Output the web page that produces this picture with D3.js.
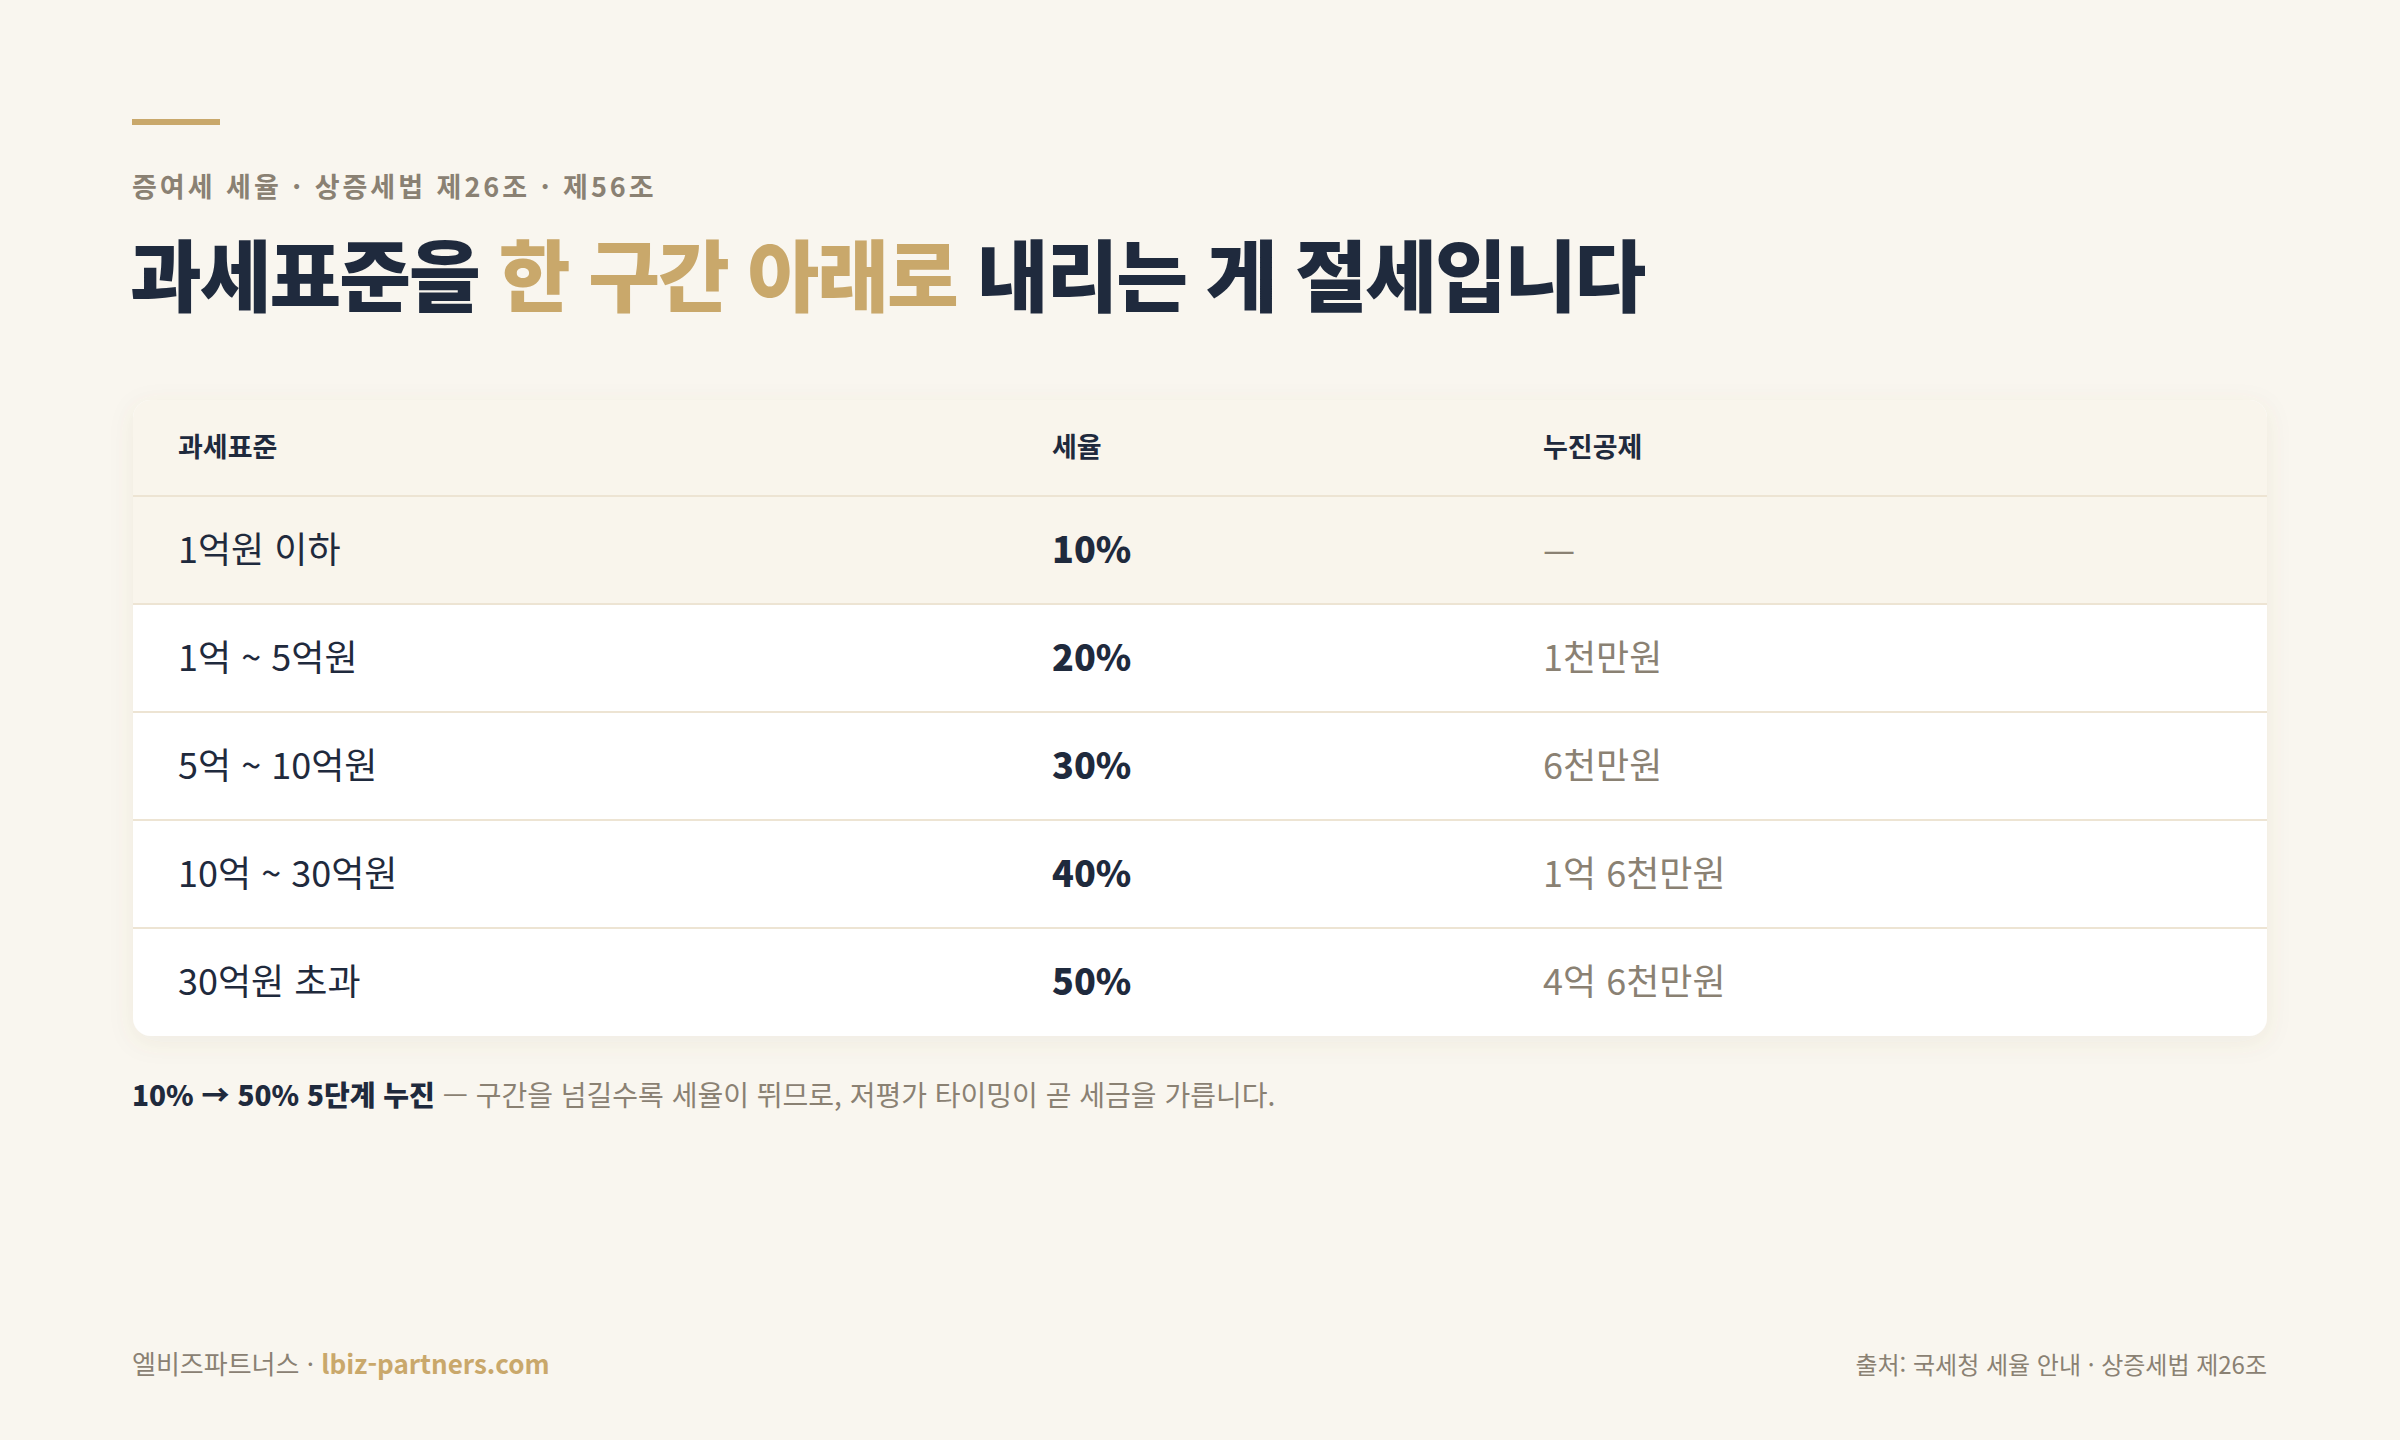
<!DOCTYPE html>
<html lang="ko">
<head>
<meta charset="UTF-8">
<title>증여세 세율</title>
<script src="https://cdnjs.cloudflare.com/ajax/libs/d3/7.8.5/d3.min.js"></script>
<style>
    body { margin: 0; background: #f9f6ef; }
    svg text { font-family: "Noto Sans CJK KR", "Noto Sans", sans-serif; }
</style>
</head>
<body>
<div id="chart"></div>
<script>
    const width = 2400, height = 1440;

    const headers = ["과세표준", "세율", "누진공제"];
    const brackets = ["1억원 이하", "1억 ~ 5억원", "5억 ~ 10억원", "10억 ~ 30억원", "30억원 초과"];
    const rates = ["10%", "20%", "30%", "40%", "50%"];
    const deductions = ["—", "1천만원", "6천만원", "1억 6천만원", "4억 6천만원"];

    const navy = "#1f2a3d", gold = "#c9a86b", grey = "#8a8173";

    const svg = d3.select("#chart").append("svg")
        .attr("width", width).attr("height", height);

    const defs = svg.append("defs");
    const f = defs.append("filter").attr("id", "shadow")
        .attr("x", "-5%").attr("y", "-10%").attr("width", "110%").attr("height", "125%");
    f.append("feDropShadow").attr("dx", 0).attr("dy", 6).attr("stdDeviation", 12)
        .attr("flood-color", "#7a6a4a").attr("flood-opacity", 0.08);
    defs.append("clipPath").attr("id", "card")
        .append("rect").attr("x", 133).attr("y", 400).attr("width", 2134).attr("height", 636).attr("rx", 18);

    // accent bar + headings
    svg.append("rect").attr("x", 132).attr("y", 119).attr("width", 88).attr("height", 6).attr("fill", gold);

    svg.append("text").attr("x", 132).attr("y", 197)
        .attr("font-size", 27).attr("font-weight", 700).attr("letter-spacing", 3)
        .attr("fill", grey).text("증여세 세율 · 상증세법 제26조 · 제56조");

    const title = svg.append("text").attr("x", 130).attr("y", 306)
        .attr("font-size", 78).attr("font-weight", 800).attr("letter-spacing", -2).attr("fill", navy);
    title.append("tspan").text("과세표준을 ");
    title.append("tspan").attr("fill", gold).text("한 구간 아래로");
    title.append("tspan").text(" 내리는 게 절세입니다");

    // table
    const x0 = 133, x1 = 2267;
    const y = d3.scaleBand().domain(d3.range(brackets.length)).range([496, 1036]);
    const colX = d3.scaleOrdinal().domain([0, 1, 2]).range([178, 1052, 1543]);

    svg.append("rect").attr("x", x0).attr("y", 400).attr("width", x1 - x0).attr("height", 636)
        .attr("rx", 18).attr("fill", "#fff").attr("filter", "url(#shadow)");

    const tbl = svg.append("g").attr("clip-path", "url(#card)");
    tbl.append("rect").attr("x", x0).attr("y", 400).attr("width", x1 - x0).attr("height", 96).attr("fill", "#f9f5ec");
    tbl.append("rect").attr("x", x0).attr("y", y(0)).attr("width", x1 - x0).attr("height", y.bandwidth()).attr("fill", "#f9f5ec");
    tbl.append("line").attr("x1", x0).attr("x2", x1).attr("y1", 496).attr("y2", 496)
        .attr("stroke", "#ede4d3").attr("stroke-width", 2);

    svg.selectAll("text.head").data(headers).join("text").attr("class", "head")
        .attr("x", (d, i) => colX(i)).attr("y", 448).attr("dy", "0.35em")
        .attr("font-size", 27).attr("font-weight", 700).attr("fill", navy).text(d => d);

    const rows = tbl.selectAll("g.row").data(brackets).join("g").attr("class", "row")
        .attr("transform", (d, i) => `translate(0,${y(i)})`);
    rows.filter((d, i) => i > 0).append("line").attr("x1", x0).attr("x2", x1)
        .attr("stroke", "#ede4d3").attr("stroke-width", 2);
    rows.append("text").attr("x", colX(0)).attr("y", y.bandwidth() / 2).attr("dy", "0.35em")
        .attr("font-size", 36).attr("fill", navy).text(d => d);
    rows.append("text").attr("x", colX(1)).attr("y", y.bandwidth() / 2).attr("dy", "0.35em")
        .attr("font-size", 36).attr("font-weight", 800).attr("fill", navy).text((d, i) => rates[i]);
    rows.append("text").attr("x", colX(2)).attr("y", y.bandwidth() / 2).attr("dy", "0.35em")
        .attr("font-size", 36).attr("fill", grey).text((d, i) => deductions[i]);

    // footnote
    const note = svg.append("text").attr("x", 132).attr("y", 1106).attr("font-size", 28).attr("fill", grey);
    note.append("tspan").attr("font-weight", 800).attr("fill", navy).text("10% → 50% 5단계 누진");
    note.append("tspan").text(" — 구간을 넘길수록 세율이 뛰므로, 저평가 타이밍이 곧 세금을 가릅니다.");

    // footer
    const foot = svg.append("text").attr("x", 132).attr("y", 1374).attr("font-size", 26).attr("fill", grey);
    foot.append("tspan").text("엘비즈파트너스 · ");
    foot.append("tspan").attr("font-weight", 700).attr("fill", gold).text("lbiz-partners.com");

    svg.append("text").attr("x", 2267).attr("y", 1374).attr("text-anchor", "end")
        .attr("font-size", 24).attr("fill", grey).text("출처: 국세청 세율 안내 · 상증세법 제26조");
</script>
</body>
</html>
